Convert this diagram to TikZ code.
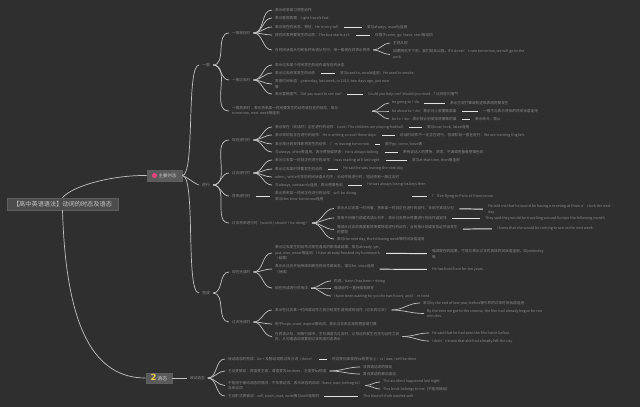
\documentclass[tikz,border=0pt]{standalone}
\usepackage{fontspec}
\setmainfont{Noto Sans CJK SC}
\newfontfamily\symf{DejaVu Sans}

\definecolor{bgc}{HTML}{2F2F2F}
\definecolor{linec}{HTML}{C2C2C2}
\definecolor{linkc}{HTML}{E4E4E4}
\definecolor{leafc}{HTML}{8A8A8A}
\definecolor{rootfill}{HTML}{4C4C4C}
\definecolor{rootdraw}{HTML}{5E5E5E}
\definecolor{rootc}{HTML}{C8C8C8}
\definecolor{mainfill}{HTML}{5A5A5A}
\definecolor{iconpink}{HTML}{E2457E}
\definecolor{iconyellow}{HTML}{F0D048}

\begin{document}
\begin{tikzpicture}[
  x=0.025cm, y=-0.025cm,
  root/.style={draw=rootdraw, fill=rootfill, text=rootc, font=\fontsize{4.4}{5}\selectfont,
    minimum width=2.78cm, minimum height=0.3cm, inner sep=0pt},
  main/.style={draw=rootdraw, fill=mainfill, text=rootc, inner sep=0pt},
  sub/.style={anchor=west, text=leafc, font=\fontsize{2.8}{3.4}\selectfont, inner xsep=2pt, inner ysep=0.5pt},
  leaf/.style={anchor=west, text=leafc, font=\fontsize{2.6}{3.9}\selectfont, inner xsep=2pt, inner ysep=0.5pt, align=left},
  branch/.style={draw=linec, line width=0.5pt},
  link/.style={draw=linkc, line width=0.7pt, shorten <=1.5pt, shorten >=1.5pt},
  fan/.style={out=0, in=180},
  trunk/.style={out=0, in=180, looseness=0.3}
]

\useasboundingbox (0,0) rectangle (640,407);
\fill[bgc] (0,0) rectangle (640,407);

% Centre and main topics
\node[root] (root) at (62.5,204) {【高中英语语法】动词的时态及语态};

\node[main, minimum width=0.875cm, minimum height=0.275cm, font=\fontsize{3.2}{3.5}\selectfont]
  (m1) at (164.5,175.5) {\hspace{0.15cm}主要时态};
\node[circle, fill=iconpink, minimum size=0.13cm, inner sep=0pt] (m1icon) at (154.5,175.5) {};

\node[main, minimum width=0.65cm, minimum height=0.25cm, font=\fontsize{3.5}{4}\selectfont]
  (m2) at (159,378) {{\symf\bfseries\fontsize{6}{6}\selectfont\textcolor{iconyellow}{2}}\,语态};

% Level 2
\node[sub] (gen) at (199,65) {一般};
\node[sub] (prog) at (199,185) {进行};
\node[sub] (perf) at (199,293) {完成};
\node[sub, font=\fontsize{2.6}{3.2}\selectfont] (pv) at (187,378) {被动语态};

% Level 3
\node[leaf] (gen1) at (229,33) {一般现在时};
\node[leaf] (gen2) at (229,80) {一般过去时};
\node[leaf, text width=3.43cm] (gen3) at (229,111) {一般将来时：表示将来某一时间要发生的动作或存在的状态，常与\\tomorrow, next week等连用};
\node[leaf] (prog1) at (229,140) {现在进行时};
\node[leaf] (prog2) at (229,173) {过去进行时};
\node[leaf] (prog3) at (229,196) {将来进行时};
\node[leaf] (prog4) at (229,223) {过去将来进行时（would / should + be doing）};
\node[leaf] (perf1) at (229,272) {现在完成时};
\node[leaf] (perf2) at (229,322) {过去完成时};

% 一般现在时
\node[leaf] (g1a) at (272,10) {表示经常或习惯性动作};
\node[leaf] (g1b) at (272,18) {表示客观真理：Light travels fast.};
\node[leaf] (g1c) at (272,27) {表示现在的状态、特征：He is very tall.};
\node[leaf] (g1cx) at (364,27) {常与always, usually连用};
\node[leaf] (g1d) at (272,35) {按时间表将要发生的动作：The bus starts at 6.};
\node[leaf] (g1dx) at (372,35) {仅限于come, go, leave, start等动词};
\node[leaf] (g1e) at (272,50) {在时间状语从句和条件状语从句中，用一般现在时表示将来};
\node[leaf] (g1e1) at (390,43) {主将从现};
\node[leaf] (g1e2) at (390,54.5) {如果明天不下雨，我们就去公园。If it doesn't rain tomorrow, we will go to the\\park.};

% 一般过去时
\node[leaf] (g2a) at (272,65) {表示过去某个时间发生的动作或存在的状态};
\node[leaf] (g2b) at (272,73) {表示过去经常发生的动作};
\node[leaf] (g2bx) at (337,73) {常与used to, would连用：He used to smoke.};
\node[leaf] (g2c) at (272,84) {常用时间状语：yesterday, last week, in 2010, two days ago, just now\\等};
\node[leaf] (g2d) at (272,94) {表示委婉语气：Did you want to see me?};
\node[leaf] (g2dx) at (365,94) {Could you help me? Would you mind...? 比现在时客气};

% 一般将来时
\node[leaf] (g3a) at (389,103) {be going to + do};
\node[leaf] (g3ax) at (447,103) {表示主观打算或有迹象表明将要发生};
\node[leaf] (g3b) at (389,111) {be about to + do：表示马上就要做某事};
\node[leaf] (g3bx) at (480,111) {一般不与表示将来的时间状语连用};
\node[leaf] (g3c) at (389,119) {be to + do：表示按计划安排将要做的事};
\node[leaf] (g3cx) at (472,119) {表示命令、禁止};

% 现在进行时
\node[leaf] (p1a) at (272,127) {表示现在（说话时）正在进行的动作：Look! The children are playing football.};
\node[leaf] (p1ax) at (424,127) {常与now, look, listen连用};
\node[leaf] (p1b) at (272,135) {表示现阶段正在进行的动作：He is writing a novel these days.};
\node[leaf] (p1bx) at (397,135) {说话时动作不一定正在进行，但现阶段一直在进行：We are learning English.};
\node[leaf] (p1c) at (272,144) {表示按计划安排即将发生的动作：I'm leaving tomorrow.};
\node[leaf] (p1cx) at (382,144) {限于go, come, leave等};
\node[leaf] (p1d) at (272,152) {与always, often等连用，表示赞扬或厌恶：He is always talking.};
\node[leaf] (p1dx) at (400,152) {带有说话人的赞扬、厌烦、不满或责备等感情色彩};

% 过去进行时
\node[leaf] (p2a) at (272,160) {表示过去某一时刻正在进行的动作：I was reading at 8 last night.};
\node[leaf] (p2ax) at (409,160) {常与at that time, then等连用};
\node[leaf] (p2b) at (272,169) {表示过去某时将要发生的动作};
\node[leaf] (p2bx) at (340,169) {He said he was leaving the next day.};
\node[leaf] (p2c) at (272,177) {when / while引导的时间状语从句中，长动作用进行时，短动作用一般过去时};
\node[leaf] (p2d) at (272,185) {与always, constantly连用，表示感情色彩};
\node[leaf] (p2dx) at (364,185) {He was always losing his keys then.};

% 将来进行时
\node[leaf, text width=3.3cm] (p3a) at (272,196) {表示将来某一时间正在进行的动作：will be doing\\常与this time tomorrow连用};
\node[leaf] (p3ax) at (429,196) {I'll be flying to Paris at 9 tomorrow.};

% 过去将来进行时
\node[leaf] (p4a) at (334,208.5) {表示从过去某一时间看，将来某一时刻正在进行的动作，多用于宾语从句};
\node[leaf] (p4ax) at (485,209.5) {He told me that he would be having a meeting at three o'clock the next\\day.};
\node[leaf] (p4b) at (334,218) {常用于间接引语或宾语从句中，表示过去预计将要进行的动作或安排};
\node[leaf] (p4bx) at (482,218) {They said they would be travelling around Europe the following month.};
\node[leaf] (p4c) at (334,229.5) {强调从过去的角度看将来要持续进行的动作，含有按计划或安排必然会发生\\的意思};
\node[leaf] (p4cx) at (494,228.5) {I knew that she would be coming to see us the next week.};
\node[leaf] (p4d) at (334,239) {常与the next day, the following week等时间状语连用};

% 现在完成时
\node[leaf] (f1a) at (272,253) {表示过去发生的动作对现在造成的影响或结果，常与already, yet,\\just, ever, never等连用：I have already finished my homework.\\（结果）};
\node[leaf] (f1ax) at (429,254) {强调现在的结果，不能与表示过去的具体时间状语连用，如yesterday\\等};
\node[leaf] (f1b) at (272,269) {表示从过去开始持续到现在的动作或状态，常与for, since连用\\（持续）};
\node[leaf] (f1bx) at (429,269.5) {He has lived here for ten years.};
\node[leaf] (f1c) at (272,288) {现在完成进行时用法};
\node[leaf] (f1c1) at (331,281) {构成：have / has been + doing};
\node[leaf] (f1c2) at (331,288) {强调动作一直持续到现在};
\node[leaf] (f1c3) at (331,296) {I have been waiting for you for two hours, and I'm tired.};

% 过去完成时
\node[leaf] (f2a) at (272,310) {表示在过去某一时间或动作之前已经发生或完成的动作（过去的过去）};
\node[leaf] (f2a1) at (420,303) {常与by the end of last year, before等引导的过去时间状语连用};
\node[leaf] (f2a2) at (424,313.5) {By the time we got to the cinema, the film had already begun for ten\\minutes.};
\node[leaf] (f2b) at (272,324) {用于hope, want, expect等动词，表示过去未实现的愿望或打算};
\node[leaf] (f2c) at (272,336.5) {在宾语从句、间接引语中，主句谓语为过去时，从句动作发生在主句动作之前\\时，从句谓语动词要用过去完成时态表示};
\node[leaf] (f2c1) at (429,333) {He said that he had seen the film twice before.};
\node[leaf] (f2c2) at (429,341) {I didn't know that she had already left the city.};

% 被动语态
\node[leaf] (v1) at (225,359) {被动语态的构成：be + 及物动词的过去分词（done）};
\node[leaf] (v1x) at (329,359) {时态变化体现在be的变化上：is / was / will be done};
\node[leaf] (v2) at (225,371) {主动变被动：宾语变主语，谓语变为be done，主语变by短语};
\node[leaf] (v2a) at (360,367) {双宾语动词的被动};
\node[leaf] (v2b) at (360,374) {复合宾语的被动语态};
\node[leaf] (v3) at (225,385.5) {不能用于被动语态的情况：不及物动词、表示状态的动词（have, own, belong to）\\及系动词};
\node[leaf] (v3a) at (380,382) {The accident happened last night.};
\node[leaf] (v3b) at (380,389) {This book belongs to me. (不能用被动)};
\node[leaf] (v4) at (225,396) {主动形式表被动：sell, wash, read, write等与well连用时};
\node[leaf] (v4x) at (360,396) {This kind of cloth washes well.};

% Root to main topics
\draw[branch] (root.north) .. controls (72,186) and (112,175) .. (m1.west);
\draw[branch] (root.south) .. controls (66,330) and (95,378) .. (m2.west);

% Main topic 1
\draw[branch] (m1.east) to[trunk] (gen.west);
\draw[branch] (m1.east) to[trunk] (prog.west);
\draw[branch] (m1.east) to[trunk] (perf.west);

\draw[branch] (gen.east) to[fan] (gen1.west);
\draw[branch] (gen.east) to[fan] (gen2.west);
\draw[branch] (gen.east) to[fan] (gen3.west);

\draw[branch] (prog.east) to[fan] (prog1.west);
\draw[branch] (prog.east) to[fan] (prog2.west);
\draw[branch] (prog.east) to[fan] (prog3.west);
\draw[branch] (prog.east) to[fan] (prog4.west);

\draw[branch] (perf.east) to[fan] (perf1.west);
\draw[branch] (perf.east) to[fan] (perf2.west);

% 一般
\draw[branch] (gen1.east) to[fan] (g1a.west);
\draw[branch] (gen1.east) to[fan] (g1b.west);
\draw[branch] (gen1.east) to[fan] (g1c.west);
\draw[branch] (gen1.east) to[fan] (g1d.west);
\draw[branch] (gen1.east) to[fan] (g1e.west);
\draw[branch] (g1e.east) to[fan] (g1e1.west);
\draw[branch] (g1e.east) to[fan] (g1e2.west);
\draw[link] (g1c) -- (g1cx);
\draw[link] (g1d) -- (g1dx);

\draw[branch] (gen2.east) to[fan] (g2a.west);
\draw[branch] (gen2.east) to[fan] (g2b.west);
\draw[branch] (gen2.east) to[fan] (g2c.west);
\draw[branch] (gen2.east) to[fan] (g2d.west);
\draw[link] (g2b) -- (g2bx);
\draw[link] (g2d) -- (g2dx);

\draw[branch] (gen3.east) to[fan] (g3a.west);
\draw[branch] (gen3.east) to[fan] (g3b.west);
\draw[branch] (gen3.east) to[fan] (g3c.west);
\draw[link] (g3a) -- (g3ax);
\draw[link] (g3b) -- (g3bx);
\draw[link] (g3c) -- (g3cx);

% 进行
\draw[branch] (prog1.east) to[fan] (p1a.west);
\draw[branch] (prog1.east) to[fan] (p1b.west);
\draw[branch] (prog1.east) to[fan] (p1c.west);
\draw[branch] (prog1.east) to[fan] (p1d.west);
\draw[link] (p1a) -- (p1ax);
\draw[link] (p1b) -- (p1bx);
\draw[link] (p1c) -- (p1cx);
\draw[link] (p1d) -- (p1dx);

\draw[branch] (prog2.east) to[fan] (p2a.west);
\draw[branch] (prog2.east) to[fan] (p2b.west);
\draw[branch] (prog2.east) to[fan] (p2c.west);
\draw[branch] (prog2.east) to[fan] (p2d.west);
\draw[link] (p2a) -- (p2ax);
\draw[link] (p2b) -- (p2bx);
\draw[link] (p2d) -- (p2dx);

\draw[link] (prog3) -- (p3a);
\draw[link] (p3a) -- (p3ax);

\draw[branch] (prog4.east) to[fan] (p4a.west);
\draw[branch] (prog4.east) to[fan] (p4b.west);
\draw[branch] (prog4.east) to[fan] (p4c.west);
\draw[branch] (prog4.east) to[fan] (p4d.west);
\draw[link] (p4a) -- (p4ax);
\draw[link] (p4b) -- (p4bx);
\draw[link] (p4c) -- (p4cx);

% 完成
\draw[branch] (perf1.east) to[fan] (f1a.west);
\draw[branch] (perf1.east) to[fan] (f1b.west);
\draw[branch] (perf1.east) to[fan] (f1c.west);
\draw[link] (f1a) -- (f1ax);
\draw[link] (f1b) -- (f1bx);
\draw[branch] (f1c.east) to[fan] (f1c1.west);
\draw[branch] (f1c.east) to[fan] (f1c2.west);
\draw[branch] (f1c.east) to[fan] (f1c3.west);

\draw[branch] (perf2.east) to[fan] (f2a.west);
\draw[branch] (perf2.east) to[fan] (f2b.west);
\draw[branch] (perf2.east) to[fan] (f2c.west);
\draw[branch] (f2a.east) to[fan] (f2a1.west);
\draw[branch] (f2a.east) to[fan] (f2a2.west);
\draw[branch] (f2c.east) to[fan] (f2c1.west);
\draw[branch] (f2c.east) to[fan] (f2c2.west);

% Main topic 2
\draw[branch] (m2.east) -- (pv.west);
\draw[branch] (pv.east) to[fan] (v1.west);
\draw[branch] (pv.east) to[fan] (v2.west);
\draw[branch] (pv.east) to[fan] (v3.west);
\draw[branch] (pv.east) to[fan] (v4.west);
\draw[link] (v1) -- (v1x);
\draw[branch] (v2.east) to[fan] (v2a.west);
\draw[branch] (v2.east) to[fan] (v2b.west);
\draw[branch] (v3.east) to[fan] (v3a.west);
\draw[branch] (v3.east) to[fan] (v3b.west);
\draw[link] (v4) -- (v4x);
\end{tikzpicture}
\end{document}
